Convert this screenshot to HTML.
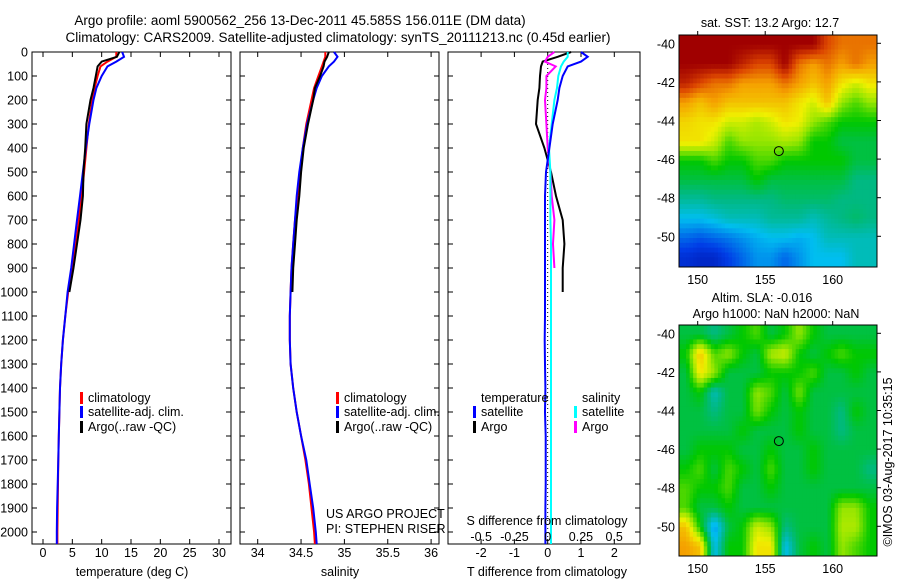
<!DOCTYPE html>
<html><head><meta charset="utf-8">
<style>
html,body{margin:0;padding:0;background:#fff;}
svg{display:block;font-family:"Liberation Sans",sans-serif;}
text{font-size:12.5px;fill:#000;}
</style></head>
<body>
<svg id="fig" width="900" height="580" viewBox="0 0 900 580" xmlns="http://www.w3.org/2000/svg">
<text x="300" y="25" text-anchor="middle" style="font-size:13.5px">Argo profile: aoml 5900562_256 13-Dec-2011 45.585S 156.011E (DM data)</text>
<text x="338" y="42" text-anchor="middle" style="font-size:13.5px">Climatology: CARS2009. Satellite-adjusted climatology: synTS_20111213.nc (0.45d earlier)</text>
<g id="g"></g>
</svg>
<script>
// ---- profile data ----
const depths = [0,20,40,60,100,150,200,300,400,500,600,700,800,900,1000,1100,1200,1300,1400,1500,1600,1700,1800,1900,2000,2050];
const tempClim = [12.5,12.5,11,9.8,9.3,8.8,8.4,7.8,7.4,7.0,6.6,6.1,5.6,5.0,4.3,3.8,3.4,3.1,2.9,2.8,2.7,2.6,2.55,2.5,2.45,2.45];
const tempSat = [13.5,13.8,12.5,11,10,9.1,8.6,7.9,7.3,6.8,6.3,5.8,5.3,4.8,4.2,3.8,3.4,3.1,2.9,2.8,2.7,2.6,2.5,2.4,2.35,2.35];
const tempArgo = [13,12.6,10,9.3,9.0,8.6,8.1,7.4,7.2,6.9,6.8,6.4,5.8,5.2,4.5];
const salClim = [34.78,34.78,34.76,34.74,34.70,34.65,34.62,34.56,34.52,34.49,34.46,34.43,34.41,34.39,34.38,34.37,34.37,34.38,34.41,34.45,34.50,34.55,34.59,34.62,34.65,34.66];
const salSat = [34.88,34.92,34.88,34.82,34.74,34.68,34.64,34.57,34.52,34.48,34.45,34.43,34.41,34.39,34.38,34.37,34.37,34.38,34.41,34.45,34.50,34.56,34.60,34.64,34.67,34.68];
const salArgo = [34.82,34.80,34.77,34.76,34.72,34.66,34.64,34.58,34.53,34.50,34.48,34.45,34.43,34.41,34.40];
const tDiffSat = [1.0,1.2,1.0,0.6,0.45,0.35,0.3,0.15,0.05,-0.05,-0.08,-0.08,-0.08,-0.08,-0.08,-0.08,-0.09,-0.08,-0.07,-0.08,-0.06,-0.06,-0.06,-0.07,-0.07,-0.07];
const tDiffArgo = [0.7,0.3,-0.15,-0.2,-0.23,-0.25,-0.3,-0.35,-0.1,0.1,0.25,0.45,0.5,0.45,0.45];
const sDiffSat = [0.15,0.15,0.12,0.1,0.08,0.07,0.05,0.03,0.01,0.02,0.02,0.02,0.025,0.025,0.025,0.025,0.025,0.025,0.025,0.025,0.025,0.025,0.025,0.025,0.025,0.025];
const sDiffArgo = [0.05,0.0,-0.02,0.06,-0.01,-0.01,-0.02,-0.01,0.0,0.02,0.03,0.05,0.04,0.05];
const depthTicks = [0,100,200,300,400,500,600,700,800,900,1000,1100,1200,1300,1400,1500,1600,1700,1800,1900,2000];
const tempTicks = [0,5,10,15,20,25,30];
const salTicks = [34,34.5,35,35.5,36];
const salTickLabels = ["34","34.5","35","35.5","36"];
const tDiffTicks = [-2,-1,0,1,2];
const sDiffTicks = [-0.5,-0.25,0,0.25,0.5];
// ---- map data (colour index 0..1), rows lat -40 -> -51.5, cols lon 148.7 -> 163.3 ----
const sstGrid = [
[1,1,1,1,1,1,1,1,1,1,.9,.85,.85,.85],
[1,1,1,1,.95,.9,.9,1,.85,.8,.85,.8,.85,.8],
[.95,.9,.85,.85,.8,.8,.8,.85,.8,.75,.8,.7,.65,.7],
[.8,.75,.8,.75,.75,.75,.75,.75,.7,.65,.75,.6,.55,.6],
[.72,.7,.7,.65,.65,.62,.65,.7,.68,.6,.55,.5,.5,.5],
[.7,.7,.65,.55,.6,.6,.6,.62,.6,.5,.5,.45,.45,.45],
[.5,.5,.55,.5,.5,.55,.55,.5,.5,.5,.5,.5,.45,.45],
[.45,.45,.45,.45,.45,.5,.45,.45,.45,.45,.45,.45,.4,.4],
[.38,.38,.4,.4,.4,.4,.4,.42,.42,.42,.42,.4,.4,.4],
[.3,.3,.32,.35,.35,.35,.38,.38,.38,.35,.38,.4,.42,.4],
[.2,.18,.2,.22,.25,.28,.3,.3,.28,.3,.35,.35,.35,.35],
[.12,.1,.1,.15,.2,.25,.25,.2,.25,.3,.3,.3,.35,.35]];
const slaGrid = [
[.45,.45,.4,.45,.5,.55,.45,.5,.6,.5,.45,.45,.45,.45],
[.5,.75,.55,.6,.5,.45,.62,.65,.5,.45,.5,.55,.5,.5],
[.45,.7,.6,.45,.45,.45,.5,.5,.5,.55,.45,.45,.5,.45],
[.45,.5,.35,.45,.45,.6,.55,.45,.58,.45,.45,.45,.45,.45],
[.45,.45,.4,.45,.45,.58,.5,.45,.5,.45,.45,.4,.5,.45],
[.45,.45,.45,.45,.5,.45,.45,.45,.5,.45,.45,.4,.45,.45],
[.45,.5,.5,.5,.45,.45,.5,.45,.45,.5,.45,.45,.45,.45],
[.5,.55,.45,.55,.5,.45,.55,.45,.45,.5,.45,.45,.45,.4],
[.55,.5,.5,.55,.45,.45,.5,.45,.45,.45,.45,.45,.45,.45],
[.55,.45,.45,.5,.45,.45,.45,.45,.45,.45,.45,.6,.6,.5],
[.75,.5,.25,.45,.5,.65,.6,.4,.45,.45,.45,.62,.62,.5],
[.8,.75,.3,.5,.5,.7,.7,.3,.45,.5,.45,.6,.55,.5]];
const floatLon = 156.011, floatLat = -45.585;
const lonTicks = [150,155,160];
const latTicks = [-40,-42,-44,-46,-48,-50];

const NS="http://www.w3.org/2000/svg";
const g=document.getElementById('g');
function el(tag,attrs,parent){const e=document.createElementNS(NS,tag);for(const k in attrs)e.setAttribute(k,attrs[k]);(parent||g).appendChild(e);return e;}
function txt(x,y,s,anchor,parent){const t=el('text',{x:x,y:y,'text-anchor':anchor||'middle'},parent);t.textContent=s;return t;}

const Y0=52, YS=0.24, AXB=544;
const yD=d=>Y0+d*YS;

function panel(name,x0,x1,xf,ticks,labels,showDepth){
  const grp=el('g',{});
  
  
  const r=el('rect',{x:x0,y:Y0,width:x1-x0,height:AXB-Y0,fill:'none',stroke:'#000','stroke-width':1},grp);
  
  
  ticks.forEach((v,i)=>{const x=xf(v);
    el('line',{x1:x,x2:x,y1:Y0,y2:Y0+5,stroke:'#000'},grp);
    el('line',{x1:x,x2:x,y1:AXB,y2:AXB-5,stroke:'#000'},grp);
    if(labels){const t=txt(x,AXB+13,labels[i],'middle',grp);
      
      }
  });
  depthTicks.forEach(d=>{const y=yD(d);
    el('line',{x1:x0,x2:x0+5,y1:y,y2:y,stroke:'#000'},grp);
    el('line',{x1:x1,x2:x1-5,y1:y,y2:y,stroke:'#000'},grp);
    if(showDepth){const t=txt(28,y+4.5,String(d),'end',grp);
      
      }
  });
  return grp;
}
function prof(vals,xf,color,w,name){
  const pts=vals.map((v,i)=>xf(v).toFixed(1)+','+yD(depths[i]).toFixed(1)).join(' ');
  const p=el('polyline',{points:pts,fill:'none',stroke:color,'stroke-width':w});
  
  
}
function legendEntry(x,y,color,label,name){
  const b=el('rect',{x:x,y:y-10,width:3,height:12,fill:color});
  
  
  const t=txt(x+8,y,label,'start');
  
  
}

const xT=v=>43+v*5.867;
panel('temperature-panel',32,231,xT,tempTicks,tempTicks.map(String),true);
prof(tempClim,xT,'#f00',2,'temp-climatology-line');
prof(tempSat,xT,'#00f',2,'temp-satellite-line');
prof(tempArgo,xT,'#000',2,'temp-argo-line');
let t=txt(132,576,'temperature (deg C)');


legendEntry(80,402,'#f00','climatology','legend-climatology');
legendEntry(80,416,'#00f','satellite-adj. clim.','legend-satellite');
legendEntry(80,431,'#000','Argo(..raw -QC)','legend-argo');

const xS=v=>257.7+(v-34)*86.7;
panel('salinity-panel',240,439,xS,salTicks,salTickLabels,false);
prof(salClim,xS,'#f00',2,'sal-climatology-line');
prof(salSat,xS,'#00f',2,'sal-satellite-line');
prof(salArgo,xS,'#000',2,'sal-argo-line');
t=txt(340,576,'salinity');


legendEntry(336,402,'#f00','climatology','legend-climatology-2');
legendEntry(336,416,'#00f','satellite-adj. clim.','legend-satellite-2');
legendEntry(336,431,'#000','Argo(..raw -QC)','legend-argo-2');
t=txt(326,518,'US ARGO PROJECT','start');


t=txt(326,533,'PI: STEPHEN RISER','start');



const xTD=v=>547.7+v*33.3;
const xSD=v=>547.7+v*133;
panel('difference-panel',448,640,xTD,tDiffTicks,tDiffTicks.map(String),false);
let zl=el('line',{x1:xTD(0),x2:xTD(0),y1:Y0,y2:AXB,stroke:'#000','stroke-dasharray':'1,3'});


prof(tDiffArgo,xTD,'#000',2,'tdiff-argo-line');
prof(sDiffArgo,xSD,'#f0f',2,'sdiff-argo-line');
prof(sDiffSat,xSD,'#0ff',2,'sdiff-satellite-line');
prof(tDiffSat,xTD,'#00f',2,'tdiff-satellite-line');
sDiffTicks.forEach(v=>{const l=txt(xSD(v),541,String(v));
  
  });
t=txt(547,525,'S difference from climatology');


t=txt(547,576,'T difference from climatology');


t=txt(481,402,'temperature','start');


t=txt(582,402,'salinity','start');


legendEntry(473,416,'#00f','satellite','legend-t-satellite');
legendEntry(473,431,'#000','Argo','legend-t-argo');
legendEntry(574,416,'#0ff','satellite','legend-s-satellite');
legendEntry(574,431,'#f0f','Argo','legend-s-argo');

// colormap stops (palette styling)
const cStops=[[0,0,0,140],[0.15,0,60,230],[0.3,0,190,240],[0.4,0,185,130],[0.5,0,200,0],[0.6,150,230,0],[0.68,240,240,0],[0.8,245,160,0],[0.9,220,70,0],[1,160,0,0]];
function cmap(v){
  v=Math.max(0,Math.min(1,v));
  for(let i=1;i<cStops.length;i++){
    if(v<=cStops[i][0]){const a=cStops[i-1],b=cStops[i],f=(v-a[0])/(b[0]-a[0]);
      return 'rgb('+Math.round(a[1]+f*(b[1]-a[1]))+','+Math.round(a[2]+f*(b[2]-a[2]))+','+Math.round(a[3]+f*(b[3]-a[3]))+')';}
  }
  return 'rgb(160,0,0)';
}
function sample(grid,fi,fj){
  const R=grid.length,C=grid[0].length;
  fi=Math.max(0,Math.min(R-1,fi)); fj=Math.max(0,Math.min(C-1,fj));
  const i0=Math.floor(fi),j0=Math.floor(fj),i1=Math.min(R-1,i0+1),j1=Math.min(C-1,j0+1);
  const a=fi-i0,b=fj-j0;
  return grid[i0][j0]*(1-a)*(1-b)+grid[i0][j1]*(1-a)*b+grid[i1][j0]*a*(1-b)+grid[i1][j1]*a*b;
}
function map(name,grid,top,bottom,latTop){
  const x0=679,x1=877;
  const lonX=lon=>697.7+(lon-150)*13.5;
  const latY=lat=>latTop+(-40-lat)*19.3;
  const grp=el('g',{});
  
  
  const rows=grid.length, cols=grid[0].length, sub=4;
  const NR=rows*sub, NC=cols*sub;
  const cw=(x1-x0)/NC, ch=(bottom-top)/NR;
  for(let i=0;i<NR;i++)for(let j=0;j<NC;j++){
    const v=sample(grid,(i+0.5)/sub-0.5,(j+0.5)/sub-0.5);
    const r=el('rect',{x:(x0+j*cw).toFixed(2),y:(top+i*ch).toFixed(2),width:(cw+0.5).toFixed(2),height:(ch+0.5).toFixed(2),fill:cmap(v)},grp);
    
    
  }
  el('rect',{x:x0,y:top,width:x1-x0,height:bottom-top,fill:'none',stroke:'#000'},grp);
  lonTicks.forEach(l=>{const x=lonX(l);
    el('line',{x1:x,x2:x,y1:top,y2:top-4,stroke:'#000'},grp);
    const tl=txt(x,bottom+17,String(l),'middle',grp);
    
    });
  latTicks.forEach(l=>{const y=latY(l);
    el('line',{x1:x1,x2:x1+4,y1:y,y2:y,stroke:'#000'},grp);
    const tl=txt(675,y+5,String(l),'end',grp);
    
    });
  const c=el('circle',{cx:lonX(floatLon),cy:latY(floatLat),r:4.5,fill:'none',stroke:'#000'},grp);
  
  
}
map('sst-map',sstGrid,35,267,43.3);
map('sla-map',slaGrid,325,556,333.3);
t=txt(770,27,'sat. SST: 13.2 Argo: 12.7');


t=txt(762,302,'Altim. SLA: -0.016');


t=txt(776,318,'Argo h1000: NaN h2000: NaN');


t=el('text',{x:0,y:0,'text-anchor':'middle',transform:'translate(892,462) rotate(-90)'});
t.textContent='©IMOS 03-Aug-2017 10:35:15';


</script>
</body></html>
